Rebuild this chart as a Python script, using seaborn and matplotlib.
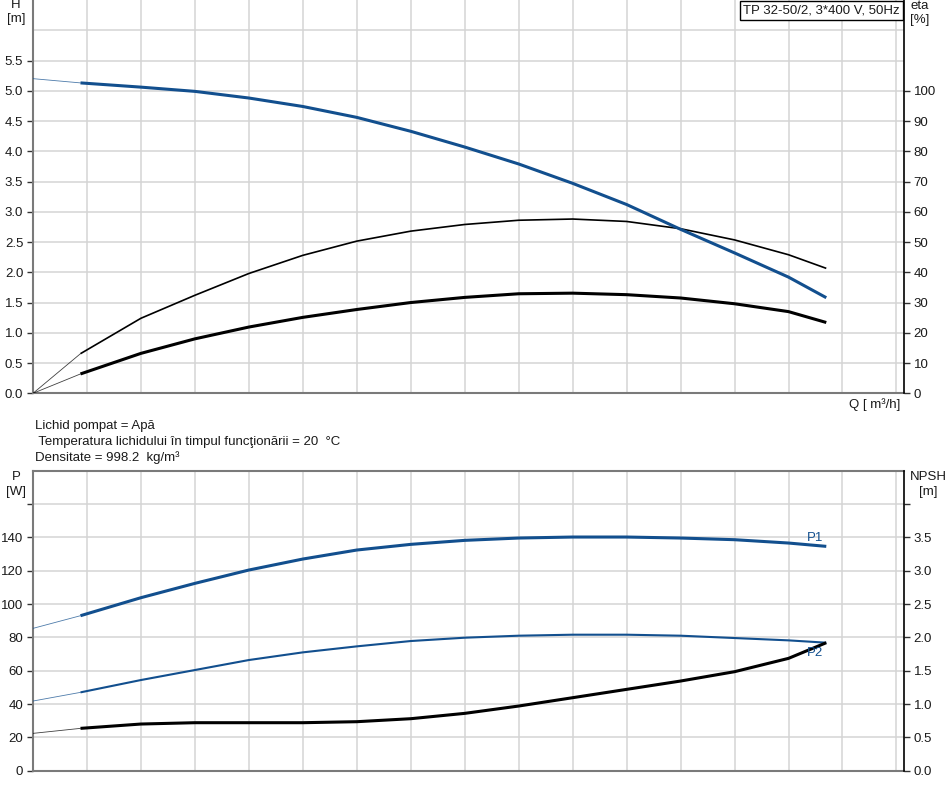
import matplotlib
matplotlib.use("Agg")
import matplotlib.pyplot as plt
import seaborn as sns
import pandas as pd

# ---- data ----
Q = [0, 0.44, 1.0, 1.5, 2.0, 2.5, 3.0, 3.5, 4.0, 4.5, 5.0, 5.5, 6.0, 6.5, 7.0, 7.35]
H = [5.20, 5.13, 5.06, 4.99, 4.88, 4.74, 4.56, 4.33, 4.07, 3.79, 3.47, 3.12, 2.71, 2.32, 1.92, 1.58]
eta_pump = [0, 13.1, 24.8, 32.4, 39.6, 45.6, 50.3, 53.6, 55.8, 57.2, 57.6, 56.8, 54.4, 50.7, 45.8, 41.3]
eta_total = [0, 6.4, 13.2, 18.0, 21.9, 25.1, 27.7, 30.0, 31.7, 32.9, 33.1, 32.6, 31.5, 29.6, 27.0, 23.4]
P1 = [85.4, 93.0, 103.8, 112.4, 120.4, 127.0, 132.4, 135.8, 138.2, 139.6, 140.2, 140.2, 139.6, 138.6, 136.6, 134.6]
P2 = [41.8, 47.0, 54.4, 60.4, 66.4, 71.0, 74.6, 77.8, 79.8, 81.0, 81.6, 81.6, 81.0, 79.6, 78.2, 76.8]
NPSH = [0.56, 0.635, 0.70, 0.72, 0.72, 0.72, 0.735, 0.78, 0.86, 0.97, 1.095, 1.22, 1.345, 1.485, 1.685, 1.92]

x_ticks = [0, 0.5, 1.0, 1.5, 2.0, 2.5, 3.0, 3.5, 4.0, 4.5, 5.0, 5.5, 6.0, 6.5, 7.0, 7.5]
x_labels = ["0", "0,5", "1,0", "1,5", "2,0", "2,5", "3,0", "3,5", "4,0", "4,5",
            "5,0", "5,5", "6,0", "6,5", "7,0", ""]
H_ticks = [0, 0.5, 1.0, 1.5, 2.0, 2.5, 3.0, 3.5, 4.0, 4.5, 5.0, 5.5]
H_labels = ["0.0", "0.5", "1.0", "1.5", "2.0", "2.5", "3.0", "3.5", "4.0", "4.5", "5.0", "5.5"]
eta_ticks = [0, 10, 20, 30, 40, 50, 60, 70, 80, 90, 100]
P_ticks = [0, 20, 40, 60, 80, 100, 120, 140, 160]
P_labels = ["0", "20", "40", "60", "80", "100", "120", "140", ""]
NPSH_ticks = [0, 0.5, 1.0, 1.5, 2.0, 2.5, 3.0, 3.5, 4.0]
NPSH_labels = ["0.0", "0.5", "1.0", "1.5", "2.0", "2.5", "3.0", "3.5", ""]

title_box = "TP 32-50/2, 3*400 V, 50Hz"
info_lines = ["Lichid pompat = Apă",
              " Temperatura lichidului în timpul funcţionării = 20  °C",
              "Densitate = 998.2  kg/m³"]

sns.set_theme(style="white")
plt.rcParams["font.family"] = ["Liberation Sans", "DejaVu Sans"]
FS = 9.5
plt.rcParams["font.size"] = FS

BLUE = "#124f8e"
GRID = "#d4d4d4"
SPINE = "#7a7a7a"
TXT = "#1a1a1a"

W, Hpx = 952, 788
fig = plt.figure(figsize=(W / 100, Hpx / 100), dpi=100)
fig.patch.set_facecolor("white")

x0, x1 = 33, 904
xmax = (x1 - x0) / 107.93

def fx(px):
    return px / W

def fy(py):
    return 1 - py / Hpx

ax1 = fig.add_axes([fx(x0), fy(393.3), (x1 - x0) / W, 393.3 / Hpx])
ax2 = fig.add_axes([fx(x0), fy(770.7), (x1 - x0) / W, 300 / Hpx])

for ax in (ax1, ax2):
    ax.set_xlim(0, xmax)
    for v in [0.5 * i for i in range(1, 17)]:
        ax.axvline(v, color=GRID, lw=1.1, zorder=0)
    ax.set_facecolor("white")

for v in [0.5 * i for i in range(1, 13)]:
    ax1.axhline(v, color=GRID, lw=1.1, zorder=0)
for v in range(20, 161, 20):
    ax2.axhline(v, color=GRID, lw=1.1, zorder=0)

ax1.set_ylim(0, 6.5)
ax2.set_ylim(0, 180)

ax1r = ax1.twinx()
ax1r.set_ylim(0, 130)
ax2r = ax2.twinx()
ax2r.set_ylim(0, 4.5)

def draw(ax, y, color, lw):
    d_thin = pd.DataFrame({"Q": Q[:2], "v": y[:2]})
    d_main = pd.DataFrame({"Q": Q[1:], "v": y[1:]})
    sns.lineplot(data=d_thin, x="Q", y="v", ax=ax, color=color, lw=0.6,
                 estimator=None, sort=False, alpha=0.75)
    sns.lineplot(data=d_main, x="Q", y="v", ax=ax, color=color, lw=lw,
                 estimator=None, sort=False, solid_capstyle="butt",
                 solid_joinstyle="round")

draw(ax1r, eta_pump, "black", 1.2)
draw(ax1r, eta_total, "black", 2.2)
draw(ax1r, [h * 20 for h in H], BLUE, 2.2)
draw(ax2r, [p / 40 for p in P2], BLUE, 1.5)
draw(ax2r, [p / 40 for p in P1], BLUE, 2.2)
draw(ax2r, NPSH, "black", 2.2)

for ax in (ax1, ax2, ax1r, ax2r):
    ax.set_xlabel("")
    ax.set_ylabel("")
    ax.set_xlim(0, xmax)

# spines
for ax in (ax1, ax2):
    for s in ("left", "bottom", "top"):
        ax.spines[s].set_color(SPINE)
        ax.spines[s].set_linewidth(1.5)
    ax.spines["right"].set_visible(False)
ax1.spines["top"].set_visible(False)
for ax in (ax1r, ax2r):
    ax.spines["right"].set_color("black")
    ax.spines["right"].set_linewidth(1.2)
    for s in ("left", "bottom", "top"):
        ax.spines[s].set_visible(False)

# ticks
ax1.set_xticks(x_ticks)
ax1.set_xticklabels(x_labels)
ax1.set_yticks(H_ticks)
ax1.set_yticklabels(H_labels)
ax1r.set_yticks(eta_ticks)
ax1r.set_yticklabels([str(t) for t in eta_ticks])
ax2.set_xticks([])
ax2.set_yticks(P_ticks)
ax2.set_yticklabels(P_labels)
ax2r.set_yticks(NPSH_ticks)
ax2r.set_yticklabels(NPSH_labels)
ax1r.set_xticks([])
ax2r.set_xticks([])

for ax in (ax1, ax2):
    ax.tick_params(axis="y", direction="out", length=4, width=1, color="#333333",
                   labelsize=FS, labelcolor=TXT, pad=3, left=True)
ax1.tick_params(axis="x", direction="out", length=4, width=1, color="#555555",
                labelsize=FS, labelcolor=TXT, pad=3, bottom=True)
for ax in (ax1r, ax2r):
    ax.tick_params(axis="y", direction="out", length=4, width=1, color="#333333",
                   labelsize=FS, labelcolor=TXT, pad=3, right=True)

# axis titles
def ftext(px, py, s, **kw):
    return fig.text(fx(px), fy(py), s, color=TXT, fontsize=FS, va="center", **kw)

ftext(16, 5, "H", ha="center")
ftext(16, 19, "[m]", ha="center")
ftext(920, 6, "eta", ha="center")
ftext(920, 20, "[%]", ha="center")
ftext(849, 405, "Q [ m³/h]", ha="left")
ftext(16, 477, "P", ha="center")
ftext(16, 492, "[W]", ha="center")
ftext(928, 477, "NPSH", ha="center")
ftext(928, 492, "[m]", ha="center")
for i, line in enumerate(info_lines):
    ftext(35, 426 + 16 * i, line, ha="left")

# title box
fig.text(fx(743), fy(10.5), title_box, color=TXT, fontsize=FS, va="center", ha="left",
         bbox=dict(boxstyle="square,pad=0.25", fc="white", ec="black", lw=1))

# curve labels
t1 = ftext(807, 538, "P1", ha="left")
t2 = ftext(807, 653, "P2", ha="left")
t1.set_color(BLUE)
t2.set_color(BLUE)

fig.savefig("out.png", dpi=100, facecolor="white")
